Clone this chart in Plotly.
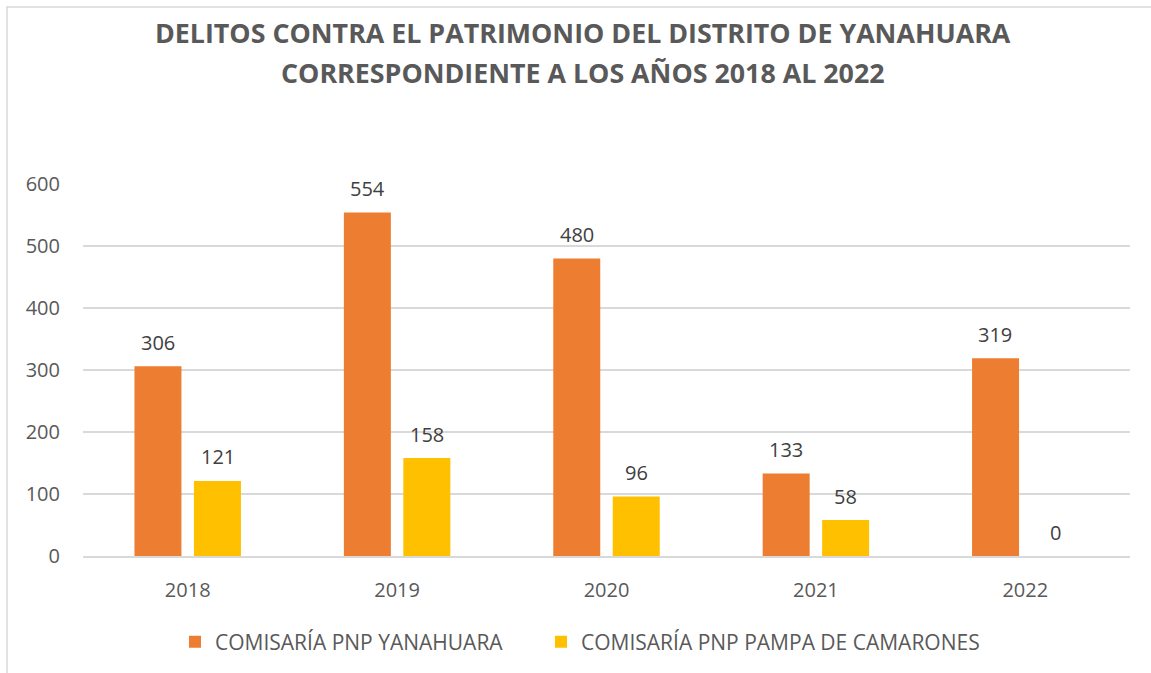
import plotly.graph_objects as go

years = [2018, 2019, 2020, 2021, 2022]
yanahuara = [306, 554, 480, 133, 319]
pampa = [121, 158, 96, 58, 0]
series_names = ["COMISARÍA PNP YANAHUARA", "COMISARÍA PNP PAMPA DE CAMARONES"]
colors = ["#ED7D31", "#FFC000"]
title_lines = ["DELITOS CONTRA EL PATRIMONIO DEL DISTRITO DE YANAHUARA",
               "CORRESPONDIENTE A LOS AÑOS 2018 AL 2022"]
y_ticks = [0, 100, 200, 300, 400, 500, 600]

FONT = "Open Sans"
W, H = 1151, 673
L, R, T, B = 83, 21, 184, 117
pw = W - L - R
ph = H - T - B

def px_x(x):
    return (x - L) / pw

def px_y(y):
    return (H - B - y) / ph

fig = go.Figure()
annotations = []
for i, (name, vals, col, shift) in enumerate(zip(series_names, [yanahuara, pampa], colors, [-30, 30])):
    fig.add_trace(go.Bar(
        x=years, y=vals, name=name, marker_color=col,
        marker_line_width=0, legend="legend" if i == 0 else "legend2",
    ))
    for xv, yv in zip(years, vals):
        annotations.append(dict(
            x=xv, y=yv, xref="x", yref="y", text=str(yv), showarrow=False,
            xshift=shift, yshift=24, xanchor="center", yanchor="middle",
            font=dict(family=FONT, size=20, color="#404040"),
        ))

for line, yc in zip(title_lines, [33, 72]):
    annotations.append(dict(
        text="<b>" + line + "</b>", xref="paper", yref="paper",
        x=px_x(583), y=px_y(yc), xanchor="center", yanchor="middle",
        showarrow=False, font=dict(family=FONT, size=26.8, color="#595959"),
    ))

legend_style = dict(orientation="h", yanchor="middle", y=px_y(642), xanchor="left",
                    font=dict(family=FONT, size=21, color="#595959"),
                    itemwidth=30, bgcolor="rgba(0,0,0,0)")

fig.update_layout(
    width=W, height=H,
    margin=dict(l=L, r=R, t=T, b=B, autoexpand=False),
    paper_bgcolor="white", plot_bgcolor="white",
    barmode="group", bargap=0.432, bargroupgap=0.21,
    font=dict(family=FONT, color="#595959"),
    showlegend=True,
    legend=dict(legend_style, x=px_x(175)),
    legend2=dict(legend_style, x=px_x(541)),
    annotations=annotations,
    shapes=[dict(type="rect", xref="paper", yref="paper",
                 x0=px_x(7), x1=px_x(1250),
                 y0=px_y(760), y1=px_y(7),
                 line=dict(color="#D9D9D9", width=1.5), layer="below")],
)
fig.update_xaxes(type="linear", range=[years[0] - 0.5, years[-1] + 0.5],
                 tickvals=years, ticktext=[str(y) for y in years],
                 showgrid=False, showline=True, linecolor="#D9D9D9",
                 linewidth=1.5, ticks="", zeroline=False,
                 tickfont=dict(family=FONT, size=20, color="#595959"),
                 ticklabelstandoff=15)
fig.update_yaxes(range=[0, 600], tickvals=y_ticks, showgrid=True, gridcolor="#D9D9D9",
                 gridwidth=1.5, zeroline=False, showline=False, ticks="",
                 tickfont=dict(family=FONT, size=20, color="#595959"),
                 ticklabelstandoff=22)

fig.write_html("out.html", config={"displayModeBar": False},
               post_script="document.body.style.margin='0px';")
